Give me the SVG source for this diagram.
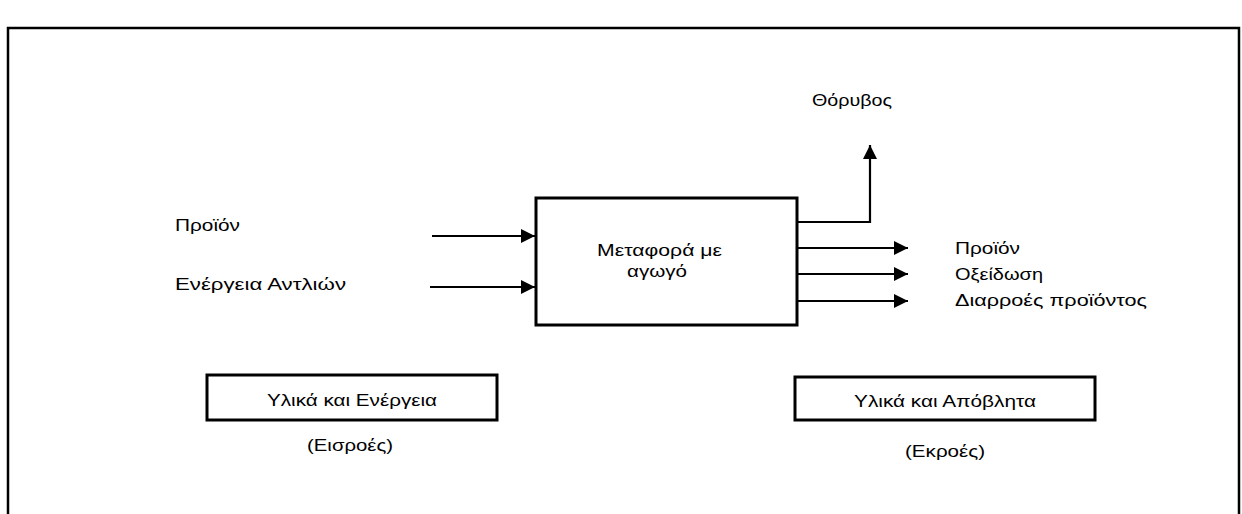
<svg xmlns="http://www.w3.org/2000/svg" width="1242" height="514" viewBox="0 0 1242 514">
  <style>
    .t { font-family: "Liberation Sans", Arial, "DejaVu Sans", sans-serif; font-size: 17px; fill: #000; }
    .box { fill: #fff; stroke: #000; stroke-width: 3; }
    .frame { fill: none; stroke: #000; stroke-width: 2.5; }
    .conn { fill: none; stroke: #000; stroke-width: 2.2; }
  </style>
  <defs>
    <marker id="arrow" markerUnits="userSpaceOnUse" markerWidth="16" markerHeight="16" refX="14" refY="7" orient="auto">
      <path d="M0,0 L14,7 L0,14 Z" fill="#000"/>
    </marker>
  </defs>
  <rect width="1242" height="514" fill="#fff"/>
  <path class="frame" d="M8,530 V28 H1239 V530"/>

  <g id="connectors">
    <line class="conn" x1="432" y1="236" x2="535" y2="236" marker-end="url(#arrow)"/>
    <line class="conn" x1="430" y1="287" x2="535" y2="287" marker-end="url(#arrow)"/>
    <path class="conn" d="M797,222 H870 V145" marker-end="url(#arrow)"/>
    <line class="conn" x1="797" y1="248" x2="908" y2="248" marker-end="url(#arrow)"/>
    <line class="conn" x1="797" y1="274" x2="908" y2="274" marker-end="url(#arrow)"/>
    <line class="conn" x1="797" y1="301" x2="908" y2="301" marker-end="url(#arrow)"/>
  </g>

  <g id="process">
    <rect class="box" x="536" y="198" width="261" height="127"/>
    <text class="t" x="597" y="256" textLength="125" lengthAdjust="spacingAndGlyphs">Μεταφορά με</text>
    <text class="t" x="627" y="277" textLength="60" lengthAdjust="spacingAndGlyphs">αγωγό</text>
  </g>

  <g id="input-labels">
    <text class="t" x="175" y="231" textLength="65" lengthAdjust="spacingAndGlyphs">Προϊόν</text>
    <text class="t" x="175" y="290" textLength="171" lengthAdjust="spacingAndGlyphs">Ενέργεια Αντλιών</text>
  </g>

  <g id="noise-label">
    <text class="t" x="812" y="106" textLength="80" lengthAdjust="spacingAndGlyphs">Θόρυβος</text>
  </g>

  <g id="output-labels">
    <text class="t" x="955" y="254" textLength="65" lengthAdjust="spacingAndGlyphs">Προϊόν</text>
    <text class="t" x="955" y="280" textLength="88" lengthAdjust="spacingAndGlyphs">Οξείδωση</text>
    <text class="t" x="955" y="306" textLength="192" lengthAdjust="spacingAndGlyphs">Διαρροές προϊόντος</text>
  </g>

  <g id="inputs-box">
    <rect class="box" x="207" y="375" width="290" height="45"/>
    <text class="t" x="267" y="406" textLength="170" lengthAdjust="spacingAndGlyphs">Υλικά και Ενέργεια</text>
    <text class="t" x="307" y="451" textLength="86" lengthAdjust="spacingAndGlyphs">(Εισροές)</text>
  </g>

  <g id="outputs-box">
    <rect class="box" x="795" y="377" width="300" height="43"/>
    <text class="t" x="854" y="407" textLength="182" lengthAdjust="spacingAndGlyphs">Υλικά και Απόβλητα</text>
    <text class="t" x="905" y="457" textLength="80" lengthAdjust="spacingAndGlyphs">(Εκροές)</text>
  </g>
</svg>
